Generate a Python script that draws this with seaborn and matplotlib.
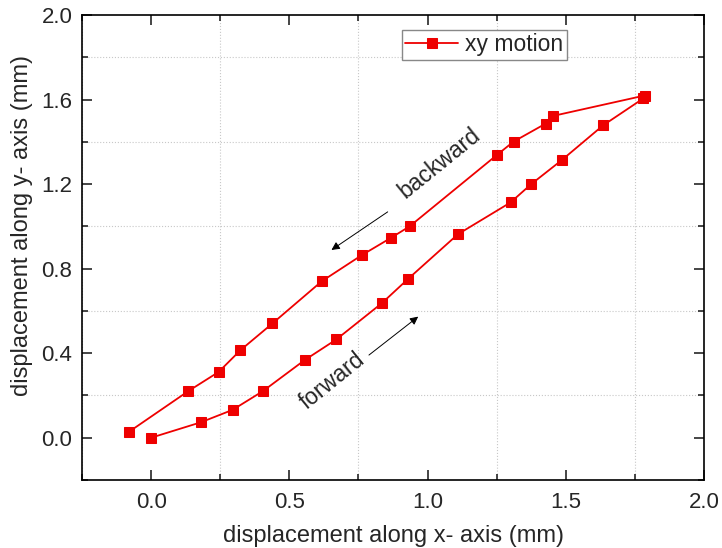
import seaborn as sns
import matplotlib.pyplot as plt
from matplotlib.ticker import MultipleLocator
import numpy as np
import pandas as pd

# forward stroke, then back to the start
forward_x = [0.0, 0.18, 0.295, 0.405, 0.555, 0.67, 0.835, 0.93, 1.11, 1.30, 1.375, 1.485, 1.635, 1.78]
forward_y = [0.0, 0.073, 0.132, 0.221, 0.367, 0.465, 0.637, 0.752, 0.963, 1.113, 1.2, 1.313, 1.478, 1.605]
backward_x = [1.785, 1.452, 1.427, 1.311, 1.25, 0.935, 0.868, 0.761, 0.617, 0.439, 0.323, 0.244, 0.135, -0.079]
backward_y = [1.619, 1.522, 1.486, 1.401, 1.337, 1.0, 0.946, 0.863, 0.740, 0.541, 0.414, 0.311, 0.221, 0.029]

x_ticks = [0.0, 0.5, 1.0, 1.5, 2.0]
y_ticks = [0.0, 0.4, 0.8, 1.2, 1.6, 2.0]

df = pd.DataFrame({
    'x': forward_x + backward_x,
    'y': forward_y + backward_y,
})

sns.set_style('ticks')
plt.rcParams['font.family'] = ['Liberation Sans', 'DejaVu Sans']

fig = plt.figure(figsize=(7.22, 5.48), dpi=100)
ax = fig.add_axes([0.1136, 0.1241, 0.8615, 0.8485])

red = '#ee0000'
sns.lineplot(data=df, x='x', y='y', sort=False, estimator=None, ax=ax,
             color=red, lw=1.3, marker='s', markersize=7.5,
             markeredgecolor=red, label='xy motion')

ax.set_xlim(-0.25, 2.0)
ax.set_ylim(-0.2, 2.0)
ax.set_xticks(x_ticks)
ax.set_yticks(y_ticks)
ax.set_xticklabels([f'{v:.1f}' for v in x_ticks])
ax.set_yticklabels([f'{v:.1f}' for v in y_ticks])
ax.xaxis.set_minor_locator(MultipleLocator(0.25))
ax.yaxis.set_minor_locator(MultipleLocator(0.2))
ax.tick_params(which='both', direction='in', top=True, right=True, width=1.2, labelsize=16)
ax.tick_params(which='major', length=7)
ax.tick_params(which='minor', length=4)
ax.tick_params(axis='x', which='major', pad=9)
ax.tick_params(axis='y', which='major', pad=7)
ax.grid(which='minor', ls=':', color='#c8c8c8', lw=0.8)
for s in ax.spines.values():
    s.set_linewidth(1.2)
    s.set_color('black')

ax.set_xlabel('displacement along x- axis (mm)', fontsize=17, labelpad=8)
ax.set_ylabel('displacement along y- axis (mm)', fontsize=17)
ax.yaxis.set_label_coords(-0.079, 0.548)

# direction labels and arrows
ax.text(1.045, 1.30, 'backward', rotation=39, fontsize=16.5, ha='center', va='center')
ax.text(0.655, 0.27, 'forward', rotation=39, fontsize=16.5, ha='center', va='center')
ax.annotate('', xy=(0.644, 0.881), xytext=(0.864, 1.076),
            arrowprops=dict(arrowstyle='-|>', color='black', lw=0.7, mutation_scale=12))
ax.annotate('', xy=(0.974, 0.581), xytext=(0.780, 0.383),
            arrowprops=dict(arrowstyle='-|>', color='black', lw=0.7, mutation_scale=12))

leg = ax.legend(loc='upper left', bbox_to_anchor=(402 / 722, 1 - 30 / 548),
                bbox_transform=fig.transFigure, borderaxespad=0, fontsize=16.5,
                fancybox=False, framealpha=1, edgecolor='#888888',
                handlelength=2.3, borderpad=0.15, handletextpad=0.3)
leg.get_frame().set_linewidth(1.0)

fig.savefig('out.png', dpi=100)
